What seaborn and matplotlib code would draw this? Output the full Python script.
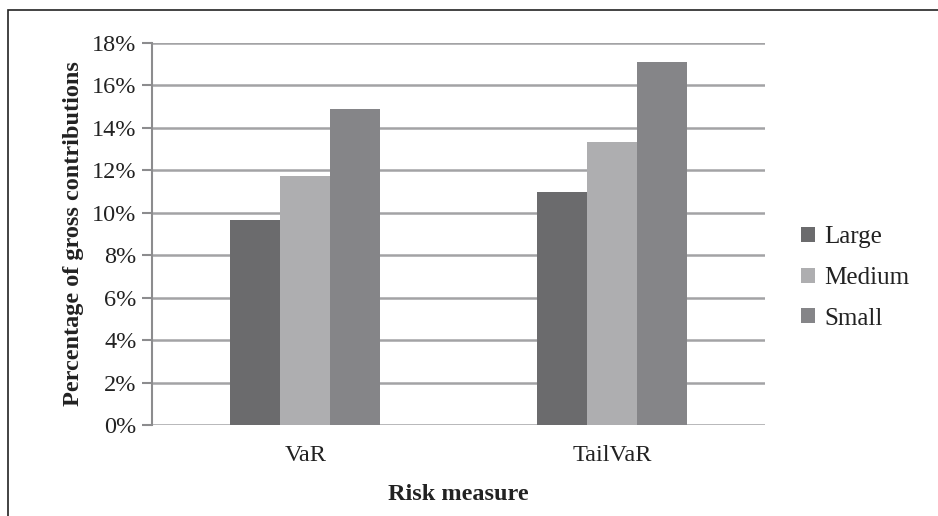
import pandas as pd
import matplotlib.pyplot as plt
import seaborn as sns
from matplotlib.patches import Rectangle
from matplotlib.ticker import PercentFormatter

# Chart values
measures = ['VaR', 'TailVaR']
sizes = ['Large', 'Medium', 'Small']
large = [9.66, 10.99]
medium = [11.75, 13.35]
small = [14.89, 17.12]

data = pd.DataFrame({
    'measure': measures * 3,
    'size': [s for s in sizes for _ in measures],
    'value': large + medium + small,
})

colors = {'Large': '#6b6b6d', 'Medium': '#aeaeb0', 'Small': '#858588'}

sns.set_style('white')
plt.rcParams['font.family'] = ['Liberation Serif', 'DejaVu Serif']

fig = plt.figure(figsize=(9.38, 5.16), dpi=100)
ax = fig.add_axes([0.162, 0.176, 0.654, 0.741])

sns.barplot(data=data, x='measure', y='value', hue='size', palette=colors,
            width=0.49, ax=ax, edgecolor='none', saturation=1, legend=True)

ax.set_ylim(0, 18)
ax.set_yticks(range(0, 19, 2))
ax.yaxis.set_major_formatter(PercentFormatter(decimals=0))
ax.grid(axis='y', color='#a3a3a5', linewidth=1.8)
ax.set_axisbelow(True)

for side in ['top', 'right', 'bottom']:
    ax.spines[side].set_visible(False)
ax.spines['left'].set_color('#8c8c8e')
ax.spines['left'].set_linewidth(1.5)
ax.tick_params(axis='y', left=True, length=7, width=1.5, color='#8c8c8e',
               labelsize=17.5, pad=4, labelcolor='#222222')
ax.tick_params(axis='x', bottom=False, labelsize=17.5, pad=11, labelcolor='#222222')

ax.set_xlabel('Risk measure', fontsize=17.5, fontweight='bold', labelpad=13, color='#222222')
ax.set_ylabel('Percentage of gross contributions', fontsize=17.5, fontweight='bold',
              labelpad=6, color='#222222')

ax.legend(title=None, frameon=False, fontsize=18, loc='center left',
          bbox_to_anchor=(1.022, 0.385), handlelength=0.55, handleheight=0.55,
          handletextpad=0.35, labelspacing=0.75, labelcolor='#222222')

# thin frame around the whole figure
fig.patches.append(Rectangle((0.009, -0.01), 0.995, 0.99, transform=fig.transFigure,
                             fill=False, edgecolor='#222222', linewidth=1.2))

fig.savefig('out.png', dpi=100)
